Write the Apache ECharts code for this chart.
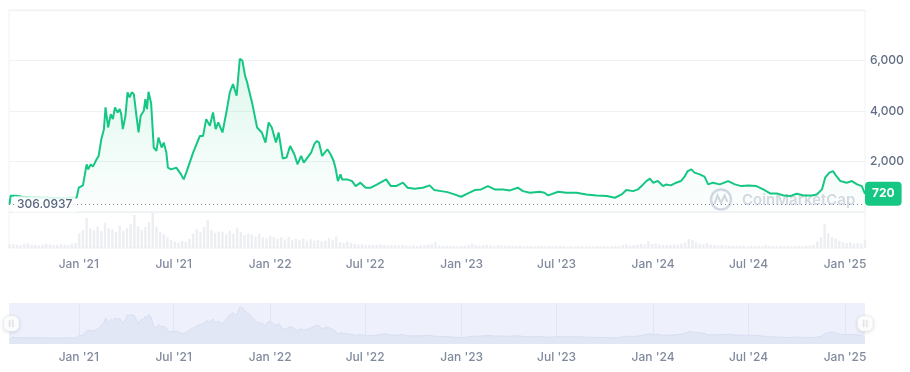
<!DOCTYPE html>
<html><head><meta charset="utf-8">
<script src="https://cdn.jsdelivr.net/npm/echarts@6/dist/echarts.min.js"></script>
<style>html,body{margin:0;padding:0;background:#fff}#c{width:910px;height:372px}</style>
</head><body><div id="c"></div>
<script>
const priceDates = ['2020-08-22','2020-08-24','2020-08-27','2020-09-03','2020-09-15','2020-10-01','2020-10-20','2020-11-05','2020-11-25','2020-12-10','2020-12-20','2020-12-28',
'2021-01-01','2021-01-09','2021-01-12','2021-01-16','2021-01-19','2021-01-24','2021-01-28','2021-02-04','2021-02-08','2021-02-13','2021-02-18','2021-02-21','2021-02-26',
'2021-03-03','2021-03-07','2021-03-11','2021-03-16','2021-03-20','2021-03-23','2021-03-26','2021-03-31','2021-04-04','2021-04-08','2021-04-12','2021-04-16','2021-04-21',
'2021-04-25','2021-04-29','2021-05-05','2021-05-08','2021-05-11','2021-05-14','2021-05-19','2021-05-24','2021-05-29','2021-06-02','2021-06-08','2021-06-12','2021-06-17',
'2021-06-20','2021-06-26','2021-07-06','2021-07-15','2021-07-20','2021-07-25','2021-08-07','2021-08-20','2021-08-26','2021-09-01','2021-09-08','2021-09-14','2021-09-19',
'2021-09-24','2021-10-02','2021-10-10','2021-10-16','2021-10-22','2021-10-29','2021-11-04','2021-11-09','2021-11-14','2021-11-18','2021-11-21','2021-11-28','2021-12-01',
'2021-12-07','2021-12-16','2021-12-23','2021-12-29','2022-01-04','2022-01-12','2022-01-17','2022-01-25','2022-02-01','2022-02-08','2022-02-16','2022-02-22','2022-03-01',
'2022-03-06','2022-03-13','2022-03-20','2022-03-26','2022-03-31','2022-04-04','2022-04-10','2022-04-20','2022-04-26','2022-05-02','2022-05-06','2022-05-10','2022-05-15',
'2022-05-18','2022-05-28','2022-06-06','2022-06-13','2022-06-22','2022-07-02','2022-07-12','2022-07-24','2022-08-10','2022-08-19','2022-08-29','2022-09-11','2022-09-20',
'2022-10-03','2022-10-19','2022-11-01','2022-11-10','2022-11-23','2022-12-05','2022-12-18','2022-12-31','2023-01-13','2023-01-26','2023-02-07','2023-02-20','2023-03-05',
'2023-03-08','2023-03-21','2023-04-03','2023-04-18','2023-04-28','2023-05-11','2023-05-30','2023-06-08','2023-06-15','2023-07-04','2023-07-20','2023-08-08','2023-08-27',
'2023-09-15','2023-10-05','2023-10-20','2023-11-02','2023-11-11','2023-11-24','2023-12-03','2023-12-13','2023-12-19','2023-12-26','2024-01-01','2024-01-10','2024-01-20',
'2024-01-26','2024-02-04','2024-02-14','2024-02-23','2024-03-01','2024-03-07','2024-03-14','2024-03-20','2024-03-30','2024-04-08','2024-04-15','2024-04-24','2024-05-07',
'2024-05-23','2024-06-05','2024-06-17','2024-07-01','2024-07-16','2024-07-29','2024-08-11','2024-08-24','2024-09-06','2024-09-18','2024-10-01','2024-10-14','2024-10-30',
'2024-11-08','2024-11-18','2024-11-24','2024-12-02','2024-12-09','2024-12-13','2024-12-23','2025-01-04','2025-01-14','2025-01-24','2025-02-02','2025-02-08'];
const priceValues = [306.0937,640,690,640,600,585,570,560,555,560,565,570,
962,1054,1026,1889,1690,1889,1797,2087,2219,2883,3280,4143,3348,
3877,3678,4143,3944,4075,3877,3280,3809,4739,4540,4739,4672,3809,
3149,3809,4008,4473,4075,4763,4300,2550,2417,2950,2553,2751,2354,
1757,1690,1757,1491,1292,1558,2354,3014,3014,3678,3412,3944,3280,
3546,3149,4008,4739,5070,4605,6063,5996,5400,5137,4870,4274,4207,
3348,3149,2751,3546,3348,2751,3149,2120,2155,2616,2286,1889,2219,
1956,2155,2354,2684,2815,2751,2219,2485,2286,2020,1690,1225,1491,
1292,1292,1225,1026,1161,962,962,1093,1292,1026,1026,1161,962,
922,962,1054,867,827,787,696,604,736,867,895,1026,895,
827,895,855,962,827,763,803,763,656,803,763,763,696,
656,630,564,696,867,827,895,1093,1225,1320,1161,1225,1026,
1093,1054,1161,1225,1400,1622,1690,1558,1491,1400,1093,1161,1093,
1225,1093,1026,1054,1026,895,736,736,656,630,723,656,656,
696,895,1360,1558,1622,1491,1225,1161,1225,1093,1026,720];

const volumeStart = '2020-08-22';
const volumeStepDays = 7;
const volumeValues = [10,12,9,8,11,13,9,8,7,9,12,10,8,9,11,9,8,12,14,
40,50,83,55,50,60,48,70,55,52,45,62,48,
55,66,92,60,50,58,72,97,60,45,38,30,22,18,15,20,17,25,
40,52,45,58,78,50,42,46,44,38,48,40,55,45,36,40,38,32,40,30,28,
34,30,26,30,24,30,22,26,22,26,20,24,20,22,18,20,28,22,32,16,14,18,14,12,10,10,8,9,8,
9,10,8,7,8,8,7,9,7,6,7,6,7,8,9,10,16,7,6,6,5,6,5,6,
7,9,12,8,7,8,9,7,6,8,7,6,7,6,6,7,5,6,5,5,6,5,5,6,5,5,6,5,
4,5,4,5,5,4,5,4,5,4,5,4,5,6,5,8,10,7,8,9,12,10,19,11,
12,10,8,9,8,10,9,12,16,25,22,16,12,10,14,9,8,7,8,7,6,6,7,6,6,
5,6,5,6,5,8,6,5,5,6,5,6,5,5,6,5,6,7,9,18,30,66,40,30,26,20,16,14,16,12,14,12,22];

const tickDates = ['2021-01-01','2021-07-01','2022-01-01','2022-07-01','2023-01-01','2023-07-01','2024-01-01','2024-07-01','2025-01-01'];
const tickLabels = ["Jan '21","Jul '21","Jan '22","Jul '22","Jan '23","Jul '23","Jan '24","Jul '24","Jan '25"];
const refPrice = 306.0937;
const xMinDate = '2020-08-21';
const xMaxDate = '2025-02-08';

const FONT = 'Inter, "Noto Sans", sans-serif';
const DAY = 86400000;
const ts = d => +echarts.time.parse(d);
const tickTs = tickDates.map(ts);
const xMin = ts(xMinDate), xMax = ts(xMaxDate);
function tickFmt(v) {
  let best = -1, bd = Infinity;
  tickTs.forEach((t, i) => { const dd = Math.abs(t - v); if (dd < bd) { bd = dd; best = i; } });
  return bd < 2 * DAY ? tickLabels[best] : '';
}
const priceData = priceDates.map((d, i) => [ts(d), priceValues[i]]);
const volStartTs = ts(volumeStart);
const volumeData = volumeValues.map((v, i) => [volStartTs + i * volumeStepDays * DAY, v]);
const lastPrice = priceValues[priceValues.length - 1];

const labelStyle = { color: '#808a9d', fontSize: 12, fontWeight: 500, fontFamily: FONT, hideOverlap: false };

const chart = echarts.init(document.getElementById('c'), null, { renderer: 'canvas' });
chart.setOption({
  animation: false,
  backgroundColor: '#fff',
  textStyle: { fontFamily: FONT },
  grid: [
    { left: 9, right: 45, top: 10, height: 202, show: true, borderColor: '#eff2f5', borderWidth: 1 },
    { left: 9, right: 45, top: 212, height: 36, show: true, borderColor: '#eff2f5', borderWidth: 1 },
    { left: 9, right: 45, top: 303, height: 41, show: true, backgroundColor: '#eef1fc', borderWidth: 0 }
  ],
  xAxis: [
    { type: 'value', gridIndex: 0, min: xMin, max: xMax, show: false, splitLine: { show: false } },
    { type: 'value', gridIndex: 1, min: xMin, max: xMax,
      axisLine: { show: false }, axisTick: { show: false, customValues: tickTs }, splitLine: { show: false },
      axisLabel: Object.assign({ customValues: tickTs, formatter: tickFmt, margin: 10 }, labelStyle) },
    { type: 'value', gridIndex: 2, min: xMin, max: xMax,
      axisLine: { show: false }, axisTick: { show: false, customValues: tickTs },
      splitLine: { show: true, lineStyle: { color: '#e2e6f4', width: 1 } },
      axisLabel: Object.assign({ customValues: tickTs, formatter: tickFmt, margin: 7 }, labelStyle) }
  ],
  yAxis: [
    { type: 'value', gridIndex: 0, position: 'right', min: 0, max: 8000, interval: 2000,
      axisLine: { show: false }, axisTick: { show: false },
      splitLine: { lineStyle: { color: '#eff2f5' } },
      axisLabel: { margin: 5,
        formatter: v => (v <= 0 || v >= 8000) ? '' : v.toLocaleString('en-US'),
        color: '#616e85', fontSize: 12, fontWeight: 500, fontFamily: FONT } },
    { type: 'value', gridIndex: 1, min: 0, max: 100, show: false },
    { type: 'value', gridIndex: 2, min: -530, max: 6840, show: false }
  ],
  dataZoom: [{
    type: 'slider', xAxisIndex: [0, 1], filterMode: 'none', start: 0, end: 100,
    left: 9, right: 45, top: 303, height: 41,
    showDataShadow: false, showDetail: false, brushSelect: false, moveHandleSize: 0,
    backgroundColor: 'rgba(0,0,0,0)', borderColor: 'rgba(0,0,0,0)', fillerColor: 'rgba(0,0,0,0)',
    handleIcon: 'path://M-2,-8 h4 a6,6 0 0 1 6,6 v4 a6,6 0 0 1 -6,6 h-4 a6,6 0 0 1 -6,-6 v-4 a6,6 0 0 1 6,-6 z M-2.1,-3.5 v7 h0.9 v-7 z M1.2,-3.5 v7 h0.9 v-7 z',
    handleSize: '38%',
    handleStyle: { color: '#fff', borderColor: '#e3e6ee', borderWidth: 0.6, shadowBlur: 4, shadowColor: 'rgba(0,0,0,0.12)', shadowOffsetY: 1 },
    emphasis: { handleStyle: { color: '#fff', borderColor: '#e3e6ee' } }
  }],
  graphic: [
    { type: 'circle', silent: true, z: 1, shape: { cx: 721, cy: 199.5, r: 10 }, style: { fill: null, stroke: '#d5d9e2', lineWidth: 2.5 } },
    { type: 'polyline', silent: true, z: 1, shape: { points: [[714.5, 204], [717.5, 195.5], [721, 203], [724.5, 195.5], [727.5, 202]] }, style: { fill: null, stroke: '#d5d9e2', lineWidth: 2.2 } },
    { type: 'text', silent: true, z: 1, x: 742, y: 200, style: { text: 'CoinMarketCap', fill: '#d5d9e2', font: '600 15px Inter', verticalAlign: 'middle' } }
  ],
  series: [
    { type: 'line', name: 'Price', xAxisIndex: 0, yAxisIndex: 0, data: priceData, symbol: 'none', z: 3, clip: false,
      lineStyle: { color: '#16c784', width: 2 },
      itemStyle: { color: '#16c784' },
      areaStyle: { color: new echarts.graphic.LinearGradient(0, 0, 0, 1, [
        { offset: 0, color: 'rgba(22,199,132,0.2)' }, { offset: 1, color: 'rgba(22,199,132,0.01)' }]) },
      markLine: { silent: true, symbol: ['none', 'none'], animation: false,
        data: [
          { yAxis: refPrice, lineStyle: { type: [1, 3], color: '#7f889b', width: 1 },
            label: { position: 'insideStartTop', distance: [5, -8], formatter: String(refPrice),
              color: '#58667e', fontSize: 12, fontWeight: 500, fontFamily: FONT,
              backgroundColor: 'rgba(255,255,255,0.85)', padding: [2, 3, 2, 3] } },
          { yAxis: lastPrice, lineStyle: { color: 'rgba(0,0,0,0)', width: 0, type: 'solid' },
            label: { show: true, position: 'end', distance: 0, formatter: String(lastPrice),
              color: '#fff', fontSize: 12, fontWeight: 'bold', fontFamily: FONT,
              backgroundColor: '#16c784', padding: [6, 7, 6, 7], borderRadius: 4 } }
        ] } },
    { type: 'bar', name: 'Volume', xAxisIndex: 1, yAxisIndex: 1, data: volumeData, barWidth: 2.4, silent: true,
      itemStyle: { color: '#eceef2' } },
    { type: 'line', name: 'Overview', xAxisIndex: 2, yAxisIndex: 2, data: priceData, symbol: 'none', silent: true,
      lineStyle: { color: '#d9dff2', width: 1 },
      areaStyle: { color: '#e2e7f6', origin: 'start', opacity: 1 } }
  ]
});
</script></body></html>
